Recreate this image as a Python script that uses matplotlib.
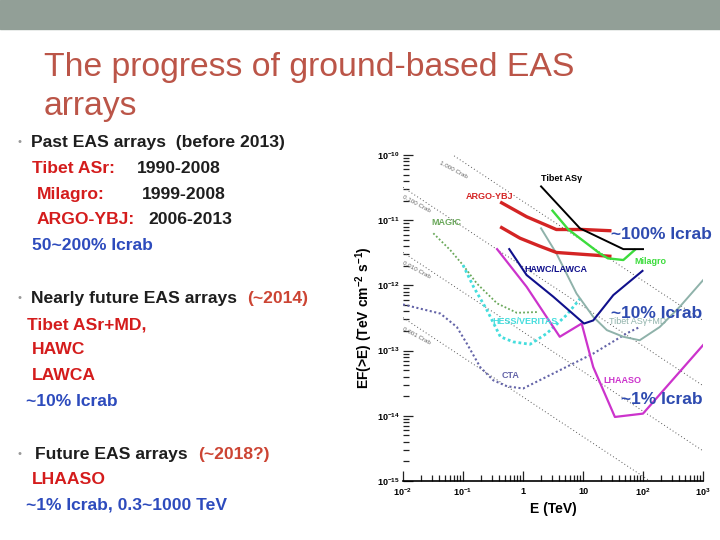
import numpy as np
import matplotlib
matplotlib.use('Agg')
import matplotlib.pyplot as plt
from matplotlib.ticker import LogLocator, FixedLocator, NullFormatter

plt.rcParams['font.family'] = ['Liberation Sans', 'DejaVu Sans']
plt.rcParams['mathtext.default'] = 'regular'

# sensitivity curves, E in TeV, E*F(>E) in TeV cm^-2 s^-1
tibet_E = [2.0, 8.9, 47, 100]
tibet_F = [3.3e-11, 7.5e-12, 3.6e-12, 3.6e-12]
argo1_E = [0.44, 1.15, 3.6, 10, 28]
argo1_F = [1.85e-11, 1.13e-11, 7.2e-12, 7.2e-12, 6.9e-12]
argo2_E = [0.44, 0.89, 1.9, 3.6, 28]
argo2_F = [7.7e-12, 5.3e-12, 4.0e-12, 3.2e-12, 2.8e-12]
milagro_E = [3.1, 5.7, 19, 26, 47, 73]
milagro_F = [1.4e-11, 7.2e-12, 3.1e-12, 2.6e-12, 2.45e-12, 3.5e-12]
hawc_E = [0.59, 1.15, 3.2, 10.4, 14.8, 32, 98]
hawc_F = [3.6e-12, 1.44e-12, 6.7e-13, 2.6e-13, 2.9e-13, 7.1e-13, 1.67e-12]
tibetmd_E = [2.0, 3.6, 7.8, 14.8, 25, 47, 88, 190, 410, 1000]
tibetmd_F = [7.5e-12, 3.1e-12, 7.5e-13, 3.3e-13, 2.06e-13, 1.63e-13, 1.44e-13, 2.3e-13, 4.7e-13, 1.2e-12]
lhaaso_E = [0.37, 1.15, 2.8, 4.1, 9.5, 14.8, 34, 100, 1000]
lhaaso_F = [3.6e-12, 9.5e-13, 2.76e-13, 1.63e-13, 2.6e-13, 5.6e-14, 9.6e-15, 1.08e-14, 1.21e-13]
magic_E = [0.032, 0.061, 0.10, 0.17, 0.37, 0.79, 1.7]
magic_F = [6.3e-12, 3.5e-12, 2.05e-12, 1.07e-12, 5.3e-13, 3.8e-13, 3.9e-13]
hess_E = [0.10, 0.15, 0.25, 0.42, 0.69, 1.31, 2.48, 5.3, 9.5]
hess_F = [2.05e-12, 9.5e-13, 4.2e-13, 1.63e-13, 1.36e-13, 1.25e-13, 1.83e-13, 3.5e-13, 6.7e-13]
cta_E = [0.01, 0.042, 0.079, 0.116, 0.193, 0.32, 0.54, 1.0, 4.1, 14.8, 53, 88]
cta_F = [5.1e-13, 3.7e-13, 2.3e-13, 1.28e-13, 5.6e-14, 3.5e-14, 2.84e-14, 2.62e-14, 5.0e-14, 9.0e-14, 1.83e-13, 2.3e-13]

# Crab reference lines
crab_E = [1e-2, 1e3]
crab_F = [3.2e-10, 2.9e-13]
crab_frac = [1.0, 0.1, 0.01, 0.001]
crab_names = ['1.000 Crab', '0.100 Crab', '0.010 Crab', '0.001 Crab']
crab_lab_E = [0.068, 0.0166, 0.0166, 0.0166]
crab_lab_F = [5.9e-11, 1.78e-11, 1.73e-12, 1.66e-13]

xtick_vals = [1e-2, 1e-1, 1, 10, 1e2, 1e3]
xtick_labels = ['$10^{-2}$', '$10^{-1}$', '1', '10', '$10^{2}$', '$10^{3}$']

W, H = 720, 540
fig = plt.figure(figsize=(7.2, 5.4), dpi=100)


def fx(x):
    return x / W


def fy(y):
    return 1 - y / H


# slide header band
fig.patches.append(plt.Rectangle((0, fy(29)), 1, 29 / H, transform=fig.transFigure,
                                 color='#929f97', zorder=0))

title_col = '#bb5548'
fig.text(fx(44), fy(76), 'The progress of ground-based EAS', fontsize=24.3,
         color=title_col, va='baseline')
fig.text(fx(44), fy(115), 'arrays', fontsize=24.3, color=title_col, va='baseline')

red = '#d41c1c'
dark = '#1e1e1e'
blue = '#2d4bbd'
orange = '#cc4433'
fs = 12.6


def line(x, y, s, c, **kw):
    fig.text(fx(x), fy(y + 6), s, fontsize=fs, fontweight='bold', color=c,
             va='baseline', **kw)


for by in [141, 297, 453]:
    fig.text(fx(20), fy(by + 4), '\u2022', fontsize=8, color='#999999', va='baseline',
             ha='center')

line(31, 141, 'Past EAS arrays  (before 2013)', dark)
line(32, 167, 'Tibet ASr:', red)
line(137, 167, '1990-2008', dark)
line(37, 193, 'Milagro:', red)
line(142, 193, '1999-2008', dark)
line(37, 218, 'ARGO-YBJ:', red)
line(148, 218, '2006-2013', dark)
line(32, 244, '50~200% Icrab', blue)

line(31, 297, 'Nearly future EAS arrays', dark)
line(247, 297, '(~2014)', orange)
line(27, 323, 'Tibet ASr+MD,', red)
line(32, 348, 'HAWC', red)
line(32, 374, 'LAWCA', red)
line(26, 400, '~10% Icrab', blue)

line(35, 453, 'Future EAS arrays', dark)
line(198, 453, '(~2018?)', orange)
line(32, 478, 'LHAASO', red)
line(26, 504, '~1% Icrab, 0.3~1000 TeV', blue)

# chart
ax = fig.add_axes([fx(403), fy(481), 300 / W, 326 / H])
ax.set_xscale('log')
ax.set_yscale('log')
ax.set_xlim(1e-2, 1e3)
ax.set_ylim(1e-15, 1e-10)

for f, name, lx, ly in zip(crab_frac, crab_names, crab_lab_E, crab_lab_F):
    ax.plot(crab_E, [v * f for v in crab_F], color='#555555', lw=0.7, ls=(0, (1, 2.5)))
    ax.text(lx, ly, name, fontsize=4.5, color='#666666', rotation=-28,
            ha='center', va='center')

ax.plot(magic_E, magic_F, color='#6aa85a', lw=1.3, ls=(0, (1, 1.2)))
ax.plot(hess_E, hess_F, color='#44dddd', lw=2.0, ls=(0, (1, 1)))
ax.plot(cta_E, cta_F, color='#6464a8', lw=1.5, ls=(0, (1, 1.2)))
ax.plot(tibetmd_E, tibetmd_F, color='#8fb2aa', lw=1.4)
ax.plot(lhaaso_E, lhaaso_F, color='#cc33cc', lw=1.6)
ax.plot(hawc_E, hawc_F, color='#10108c', lw=1.5)
ax.plot(argo1_E, argo1_F, color='#d42424', lw=2.4)
ax.plot(argo2_E, argo2_F, color='#d42424', lw=2.4)
ax.plot(milagro_E, milagro_F, color='#3cdc3c', lw=1.7)
ax.plot(tibet_E, tibet_F, color='black', lw=1.4)

lab_kw = dict(fontsize=6.5, fontweight='bold', ha='center', va='center')
ax.text(4.47, 4.4e-11, 'Tibet AS\u03b3', color='black', **lab_kw)
ax.text(0.28, 2.27e-11, 'ARGO-YBJ', color='#d42424', **lab_kw)
ax.text(0.052, 9.3e-12, 'MAGIC', color='#6aa85a', **lab_kw)
ax.text(131, 2.3e-12, 'Milagro', color='#3cdc3c', **lab_kw)
ax.text(3.55, 1.78e-12, 'HAWC/LAWCA', color='#10108c', **lab_kw)
ax.text(1.08, 2.76e-13, 'HESS/VERITAS', color='#44dddd', **lab_kw)
ax.text(82, 2.76e-13, 'Tibet AS\u03b3+MD', color='#8fb2aa', fontsize=6.5,
        ha='center', va='center')
ax.text(0.61, 4.2e-14, 'CTA', color='#6464a8', **lab_kw)
ax.text(45, 3.5e-14, 'LHAASO', color='#cc33cc', **lab_kw)

for s in ['top', 'right', 'left']:
    ax.spines[s].set_visible(False)
ax.spines['bottom'].set_linewidth(1.2)
ax.xaxis.set_major_locator(FixedLocator(xtick_vals))
ax.set_xticklabels(xtick_labels)
ax.xaxis.set_minor_locator(LogLocator(base=10, subs=np.arange(2, 10)))
ax.xaxis.set_minor_formatter(NullFormatter())
ax.yaxis.set_major_locator(LogLocator(base=10, numticks=10))
ax.yaxis.set_minor_locator(LogLocator(base=10, subs=np.arange(2, 10), numticks=10))
ax.yaxis.set_minor_formatter(NullFormatter())
ax.tick_params(which='both', direction='in', width=0.9, color='#222222')
ax.tick_params(which='major', length=7, labelsize=6.5, pad=4)
ax.tick_params(axis='y', which='major', pad=2.5)
ax.tick_params(which='minor', length=4)
for lab in ax.get_xticklabels() + ax.get_yticklabels():
    lab.set_fontweight('bold')

ax.set_xlabel('E (TeV)', fontsize=10, fontweight='bold', labelpad=3)
ax.set_ylabel('EF(>E) (TeV cm$^{-2}$ s$^{-1}$)', fontsize=10, fontweight='bold')
ax.yaxis.set_label_coords(-0.092, 0.5)

ic_kw = dict(fontsize=12.5, fontweight='bold', color='#2e4bb0', va='center', ha='left')
fig.text(fx(611), fy(235), '~100% Icrab', **ic_kw)
fig.text(fx(611), fy(313), '~10% Icrab', **ic_kw)
fig.text(fx(621), fy(399), '~1% Icrab', **ic_kw)

fig.savefig('out.png', dpi=100)
